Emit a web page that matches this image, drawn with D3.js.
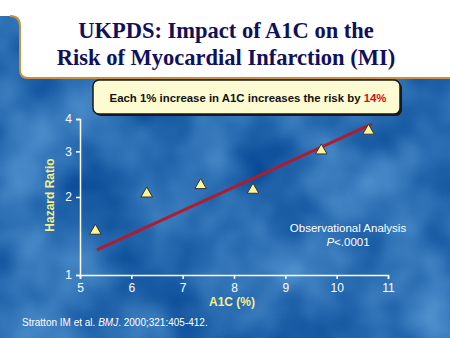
<!DOCTYPE html>
<html>
<head>
<meta charset="utf-8">
<script src="https://cdn.jsdelivr.net/npm/d3@7"></script>
<style>
body { margin: 0; padding: 0; overflow: hidden; }
svg { display: block; }
</style>
</head>
<body>
<svg width="450" height="338"></svg>
<script>
// values
var a1c = [5.3, 6.3, 7.35, 8.37, 9.7, 10.62];
var hazard = [1.48, 2.06, 2.22, 2.13, 3.02, 3.6];
var fitX = [5.33, 10.69];
var fitY = [1.25, 3.83];
var xTicks = [5, 6, 7, 8, 9, 10, 11];
var yTicks = [1, 2, 3, 4];

var svg = d3.select("svg");
var defs = svg.append("defs");

// cloudy blue backdrop
var f = defs.append("filter").attr("id", "clouds")
  .attr("x", 0).attr("y", 0).attr("width", "100%").attr("height", "100%")
  .attr("color-interpolation-filters", "sRGB");
f.append("feTurbulence").attr("type", "fractalNoise")
  .attr("baseFrequency", 0.013).attr("numOctaves", 3).attr("seed", 7);
f.append("feColorMatrix").attr("type", "matrix")
  .attr("values", "0.45 0 0 0 -0.06  0.45 0 0 0 0.2  0.35 0 0 0 0.52  0 0 0 0 1");

svg.append("rect").attr("width", 450).attr("height", 338).attr("fill", "#2a6db0");
svg.append("rect").attr("width", 450).attr("height", 338).attr("filter", "url(#clouds)");

// title panel
svg.append("path")
  .attr("d", "M0,0 H450 V78 H28 Q20,78 20,70 V24 Q20,16 12,16 H0 Z")
  .attr("fill", "#ffffff");
svg.append("path")
  .attr("d", "M10,16 Q20,16 20,26 V70 Q20,78 28,78 H450")
  .attr("fill", "none").attr("stroke", "#c89040").attr("stroke-width", 2);

var title = svg.append("text")
  .attr("text-anchor", "middle")
  .style("font-family", "'Liberation Serif', 'Times New Roman', serif")
  .style("font-weight", "bold").style("font-size", "22.5px")
  .attr("fill", "#10105c");
title.append("tspan").attr("x", 226).attr("y", 38).text("UKPDS: Impact of A1C on the");
title.append("tspan").attr("x", 226).attr("y", 65).text("Risk of Myocardial Infarction (MI)");

// callout
svg.append("rect").attr("x", 95).attr("y", 82).attr("width", 307).attr("height", 34)
  .attr("rx", 6).attr("fill", "#1a1a1a");
svg.append("rect").attr("x", 93).attr("y", 80).attr("width", 307).attr("height", 34)
  .attr("rx", 6).attr("fill", "#fdfbd2").attr("stroke", "#1a1a1a").attr("stroke-width", 1.5);
var callout = svg.append("text").attr("x", 248).attr("y", 102).attr("text-anchor", "middle")
  .style("font-family", "'Liberation Sans', Arial, sans-serif")
  .style("font-weight", "bold").style("font-size", "11.4px").attr("fill", "#111");
callout.append("tspan").text("Each 1% increase in A1C increases the risk by ");
callout.append("tspan").attr("fill", "#d01010").text("14%");

// scales
var x = d3.scaleLinear().domain([5, 11]).range([80, 388]);
var y = d3.scaleLog().domain([1, 4]).range([275, 119]);

var g = svg.append("g")
  .style("font-family", "'Liberation Sans', Arial, sans-serif");

var xAxis = g.append("g").attr("transform", "translate(0,275)")
  .call(d3.axisBottom(x).tickValues(xTicks).tickFormat(d3.format("d")).tickSizeOuter(0).tickSize(4).tickPadding(4));
var yAxis = g.append("g").attr("transform", "translate(80,0)")
  .call(d3.axisLeft(y).tickValues(yTicks).tickFormat(d3.format("d")).tickSizeOuter(0).tickSize(4).tickPadding(4));

[xAxis, yAxis].forEach(function(a) {
  a.select(".domain").attr("stroke", "#ffffff").attr("stroke-width", 1.5);
  a.selectAll(".tick line").attr("stroke", "#ffffff").attr("stroke-width", 1.5);
  a.selectAll(".tick text").attr("fill", "#ffffff").style("font-size", "12px")
    .style("font-family", "'Liberation Sans', Arial, sans-serif");
});

// axis titles
svg.append("text").attr("transform", "translate(54,195) rotate(-90)")
  .attr("text-anchor", "middle")
  .style("font-family", "'Liberation Sans', Arial, sans-serif")
  .style("font-weight", "bold").style("font-size", "12px")
  .attr("fill", "#f4ee8c").text("Hazard Ratio");
svg.append("text").attr("x", 232).attr("y", 306).attr("text-anchor", "middle")
  .style("font-family", "'Liberation Sans', Arial, sans-serif")
  .style("font-weight", "bold").style("font-size", "12px")
  .attr("fill", "#f4ee8c").text("A1C (%)");

// fit line
svg.append("line")
  .attr("x1", x(fitX[0])).attr("y1", y(fitY[0]))
  .attr("x2", x(fitX[1])).attr("y2", y(fitY[1]))
  .attr("stroke", "#b01c2e").attr("stroke-width", 3);

// points
var pts = a1c.map(function(v, i) { return {a1c: v, hr: hazard[i]}; });
svg.selectAll(".pt").data(pts).enter().append("path")
  .attr("class", "pt")
  .attr("d", d3.symbol().type(d3.symbolTriangle).size(58))
  .attr("transform", function(d) { return "translate(" + x(d.a1c) + "," + y(d.hr) + ")"; })
  .attr("fill", "#fbf59a").attr("stroke", "#333").attr("stroke-width", 1);

// annotation
var ann = svg.append("text").attr("text-anchor", "middle")
  .style("font-family", "'Liberation Sans', Arial, sans-serif")
  .style("font-size", "11.5px").attr("fill", "#ffffff");
ann.append("tspan").attr("x", 348).attr("y", 232).text("Observational Analysis");
var p2 = ann.append("tspan").attr("x", 348).attr("y", 246);
p2.append("tspan").style("font-style", "italic").text("P");
p2.append("tspan").text("<.0001");

// citation
var cite = svg.append("text").attr("x", 22).attr("y", 326)
  .style("font-family", "'Liberation Sans', Arial, sans-serif")
  .style("font-size", "10px").attr("fill", "#ffffff");
cite.append("tspan").text("Stratton IM et al. ");
cite.append("tspan").style("font-style", "italic").text("BMJ");
cite.append("tspan").text(". 2000;321:405-412.");
</script>
</body>
</html>
